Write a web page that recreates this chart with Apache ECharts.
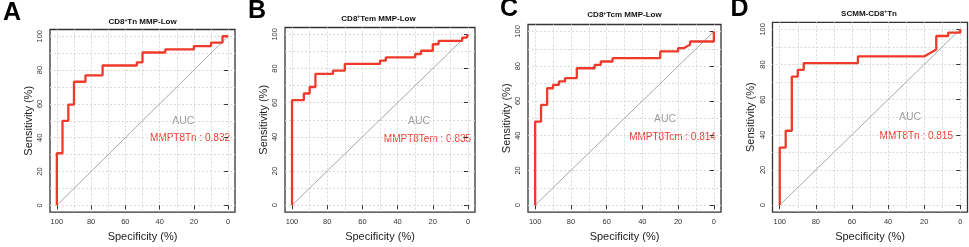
<!DOCTYPE html>
<html>
<head>
<meta charset="utf-8">
<script src="https://cdn.jsdelivr.net/npm/echarts@6/dist/echarts.min.js"></script>
<style>
  html, body { margin: 0; padding: 0; background: #fff; }
  #chart { width: 969px; height: 247px; }
</style>
</head>
<body>
<div id="chart"></div>
<script>
// 各面板 ROC 曲线顶点 (特异度 %, 灵敏度 %)
var specA = [100, 100, 96.7, 96.7, 93.3, 93.3, 90, 90, 83.3, 83.3, 73.3, 73.3, 53.3, 53.3, 50, 50, 36.7, 36.7, 20, 20, 10, 10, 3.3, 3.3, 0];
var sensA = [0, 30.8, 30.8, 50, 50, 59.6, 59.6, 73.1, 73.1, 76.9, 76.9, 82.7, 82.7, 84.6, 84.6, 90.4, 90.4, 92.3, 92.3, 94.2, 94.2, 96.2, 96.2, 100, 100];

var specB = [100, 100, 93.3, 93.3, 90, 90, 86.7, 86.7, 76.7, 76.7, 70, 70, 50, 50, 46.7, 46.7, 30, 30, 26.7, 26.7, 20, 20, 16.7, 16.7, 3.3, 3.3, 0.7, 0];
var sensB = [0, 61.5, 61.5, 65.4, 65.4, 69.2, 69.2, 76.9, 76.9, 78.8, 78.8, 82.7, 82.7, 84.6, 84.6, 86.5, 86.5, 88.5, 88.5, 90.4, 90.4, 94.2, 94.2, 96.2, 96.2, 98.1, 98.1, 100];

var specC = [100, 100, 96.7, 96.7, 93.3, 93.3, 90, 90, 86.7, 86.7, 83.3, 83.3, 76.7, 76.7, 66.7, 66.7, 63.3, 63.3, 56.7, 56.7, 30, 30, 20, 20, 16.7, 15, 13.3, 13.3, 0, 0];
var sensC = [0, 48.1, 48.1, 57.7, 57.7, 67.3, 67.3, 69.2, 69.2, 71.2, 71.2, 73.1, 73.1, 78.8, 78.8, 80.8, 80.8, 82.7, 82.7, 84.6, 84.6, 88.5, 88.5, 90.4, 90.4, 91.5, 92.3, 94.2, 94.2, 100];

var specD = [100, 100, 96.7, 96.7, 93.3, 93.3, 90, 90, 86.7, 86.7, 56.7, 56.7, 20, 13.3, 13.3, 6.7, 6.7, 0, 0];
var sensD = [0, 32.7, 32.7, 42.3, 42.3, 73.1, 73.1, 76.9, 76.9, 80.8, 80.8, 84.6, 84.6, 88.5, 96.2, 96.2, 98.1, 98.1, 100];

// 参考对角线
var diagSpec = [100, 0];
var diagSens = [0, 100];

// 刻度
var majorTicks = [0, 20, 40, 60, 80, 100];
var gridTicks = [0, 10, 20, 30, 40, 50, 60, 70, 80, 90, 100];

// 文字
var letters = ['A', 'B', 'C', 'D'];
var titles = ['CD8{s|+}Tn MMP-Low', 'CD8{s|+}Tem MMP-Low', 'CD8{s|+}Tcm MMP-Low', 'SCMM-CD8{s|+}Tn'];
var aucLabels = ['MMPT8Tn : 0.832', 'MMPT8Tem : 0.835', 'MMPT8Tcm : 0.814', 'MMT8Tn : 0.815'];

var specs = [specA, specB, specC, specD];
var senses = [sensA, sensB, sensC, sensD];

// 布局 (像素)
var boxes = [
    { left: 50, top: 29.5, width: 185, height: 185.5 },
    { left: 285, top: 27.5, width: 190, height: 190 },
    { left: 528, top: 24.5, width: 193, height: 193 },
    { left: 772.5, top: 22.3, width: 195, height: 193.3 }
];
var letterPos = [[12, 13], [257, 11], [509, 9.5], [739.5, 9.5]];
var titlePos = [[142.5, 22], [378.5, 18.3], [624.5, 15], [869, 13.3]];
var aucPos = [[183.3, 120.7], [419, 120.7], [665, 119], [910, 117.3]];
var valPos = [[190, 138.3], [427.5, 139.3], [672.5, 137.7], [916.3, 136]];

var FONT = 'Liberation Sans, Arial, sans-serif';
var RED = '#ee3a2a';

function zip(a, b) {
    var out = [];
    for (var i = 0; i < a.length; i++) out.push([a[i], b[i]]);
    return out;
}

var grids = [], xAxes = [], yAxes = [], series = [], graphics = [];

for (var i = 0; i < 4; i++) {
    var b = boxes[i];
    grids.push({
        left: b.left, top: b.top, width: b.width, height: b.height,
        show: true, borderColor: '#333', borderWidth: 1.3, backgroundColor: 'transparent'
    });
    // 数据轴: 刻度和标签
    xAxes.push({
        type: 'value', gridIndex: i, min: -4, max: 104, inverse: true,
        name: 'Specificity (%)', nameLocation: 'middle', nameGap: 16,
        nameTextStyle: { fontFamily: FONT, fontSize: 11, color: '#222' },
        axisLine: { show: false },
        axisTick: { show: true, length: 4, customValues: majorTicks, lineStyle: { color: '#333', width: 1 } },
        axisLabel: { customValues: majorTicks, fontFamily: FONT, fontSize: 7.5, color: '#333', margin: 6 },
        splitLine: { show: false }
    });
    // 网格线轴
    xAxes.push({
        type: 'value', gridIndex: i, min: -4, max: 104, inverse: true, position: 'top',
        axisLine: { show: false },
        axisTick: { show: false, customValues: gridTicks },
        axisLabel: { show: false },
        splitLine: { show: true, lineStyle: { color: '#d8d8d8', type: [2, 2], width: 1 } }
    });
    yAxes.push({
        type: 'value', gridIndex: i, min: -4, max: 104,
        name: 'Sensitivity (%)', nameLocation: 'middle', nameGap: 16,
        nameTextStyle: { fontFamily: FONT, fontSize: 11, color: '#222' },
        axisLine: { show: false },
        axisTick: { show: true, length: 4, customValues: majorTicks, lineStyle: { color: '#333', width: 1 } },
        axisLabel: { customValues: majorTicks, rotate: 90, fontFamily: FONT, fontSize: 7.5, color: '#333', margin: 6 },
        splitLine: { show: false }
    });
    yAxes.push({
        type: 'value', gridIndex: i, min: -4, max: 104, position: 'right',
        axisLine: { show: false },
        axisTick: { show: false, customValues: gridTicks },
        axisLabel: { show: false },
        splitLine: { show: true, lineStyle: { color: '#d8d8d8', type: [2, 2], width: 1 } }
    });

    series.push({
        type: 'line', xAxisIndex: 2 * i, yAxisIndex: 2 * i,
        data: zip(diagSpec, diagSens), showSymbol: false, silent: true,
        lineStyle: { color: '#a8a8a8', width: 1 }
    });
    series.push({
        type: 'line', xAxisIndex: 2 * i, yAxisIndex: 2 * i,
        data: zip(specs[i], senses[i]), showSymbol: false, silent: true,
        lineStyle: { color: RED, width: 2.3 }
    });

    graphics.push({
        type: 'text', x: letterPos[i][0], y: letterPos[i][1],
        style: { text: letters[i], fontFamily: FONT, fontSize: 25, fontWeight: 'bold', fill: '#000',
            align: 'center', verticalAlign: 'middle' }
    });
    graphics.push({
        type: 'text', x: titlePos[i][0], y: titlePos[i][1],
        style: { text: titles[i], fontFamily: FONT, fontSize: 8, fontWeight: 'bold', fill: '#111',
            align: 'center', verticalAlign: 'middle',
            rich: { s: { fontFamily: FONT, fontSize: 5, fontWeight: 'bold', fill: '#111', verticalAlign: 'top' } } }
    });
    graphics.push({
        type: 'text', x: aucPos[i][0], y: aucPos[i][1],
        style: { text: 'AUC', fontFamily: FONT, fontSize: 10.5, fill: '#9a9a9a',
            align: 'center', verticalAlign: 'middle' }
    });
    graphics.push({
        type: 'text', x: valPos[i][0], y: valPos[i][1],
        style: { text: aucLabels[i], fontFamily: FONT, fontSize: 10, fill: RED,
            align: 'center', verticalAlign: 'middle' }
    });
}

var chart = echarts.init(document.getElementById('chart'), null, { renderer: 'canvas' });
chart.setOption({
    animation: false,
    backgroundColor: '#fff',
    grid: grids,
    xAxis: xAxes,
    yAxis: yAxes,
    series: series,
    graphic: graphics
});
</script>
</body>
</html>
